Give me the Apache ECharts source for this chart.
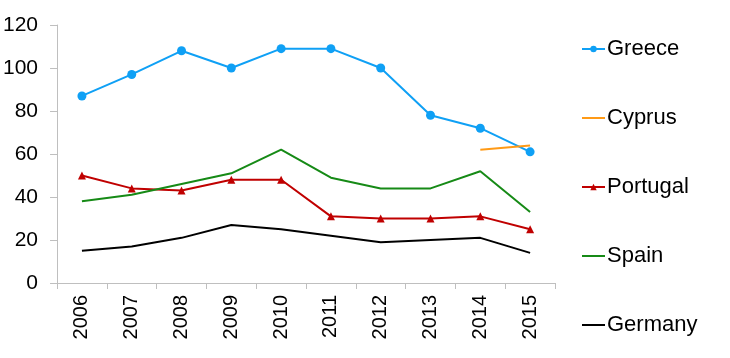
<!DOCTYPE html>
<html><head><meta charset="utf-8">
<script src="https://cdn.jsdelivr.net/npm/echarts@6/dist/echarts.min.js"></script>
<style>html,body{margin:0;padding:0;background:#fff}#c{width:730px;height:358px}</style>
</head><body><div id="c"></div>
<script>
const years = ['2006','2007','2008','2009','2010','2011','2012','2013','2014','2015'];
const greece   = [87, 97, 108, 100, 109, 109, 100, 78, 72, 61];
const cyprus   = [null, null, null, null, null, null, null, null, 62, 64];
const portugal = [50, 44, 43, 48, 48, 31, 30, 30, 31, 25];
const spain    = [38, 41, 46, 51, 62, 49, 44, 44, 52, 33];
const germany  = [15, 17, 21, 27, 25, 22, 19, 20, 21, 14];
const yTicks = {min: 0, max: 120, interval: 20};

const font = '"Liberation Sans", Arial, sans-serif';
const chart = echarts.init(document.getElementById('c'));
function line(name, data, color, symbol, size) {
  return {
    name, type: 'line', data,
    symbol: symbol || 'none', symbolSize: size || 0, showSymbol: !!symbol,
    lineStyle: {color, width: 2}, itemStyle: {color},
    connectNulls: false, animation: false
  };
}
const hidden = {opacity: 0};
chart.setOption({
  animation: false,
  grid: {left: 56, right: 175, top: 25, bottom: 75},
  legend: {
    orient: 'vertical', left: 581, top: 38, itemGap: 47, padding: 0,
    itemWidth: 23, itemHeight: 8,
    textStyle: {fontFamily: font, fontSize: 22, color: '#000', padding: [0,0,0,-3]},
    data: [
      {name: 'Greece'},
      {name: 'Cyprus', itemStyle: hidden},
      {name: 'Portugal'},
      {name: 'Spain', itemStyle: hidden},
      {name: 'Germany', itemStyle: hidden}
    ]
  },
  xAxis: {
    type: 'category', data: years, boundaryGap: true,
    axisLine: {lineStyle: {color: '#bfbfbf', width: 1}},
    axisTick: {show: true, length: 6, lineStyle: {color: '#bfbfbf'}},
    axisLabel: {rotate: 90, margin: 12, color: '#000', fontSize: 20, fontFamily: font}
  },
  yAxis: {
    type: 'value', min: yTicks.min, max: yTicks.max, interval: yTicks.interval,
    axisLine: {show: true, lineStyle: {color: '#bfbfbf', width: 1}},
    axisTick: {show: true, length: 7, lineStyle: {color: '#bfbfbf'}},
    splitLine: {show: false},
    axisLabel: {margin: 19, color: '#000', fontSize: 21, fontFamily: font}
  },
  series: [
    line('Greece', greece, '#0fa0f5', 'circle', 9),
    line('Cyprus', cyprus, '#ff9a16'),
    line('Portugal', portugal, '#c00000', 'triangle', 8),
    line('Spain', spain, '#168a16'),
    line('Germany', germany, '#000000')
  ]
});
</script></body></html>
